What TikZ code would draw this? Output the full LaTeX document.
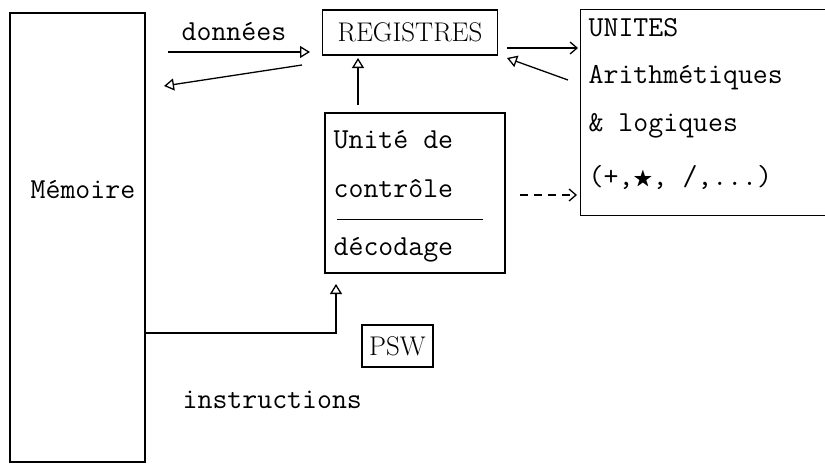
\documentclass[tikz,border=0pt]{standalone}
\usepackage{fontspec}
\usepackage{amssymb}
\usetikzlibrary{arrows.meta,calc}
\begin{document}
\begin{tikzpicture}[x=1pt,y=-1pt,line width=1.3pt,
  tt/.style={font=\fontsize{29}{34}\selectfont\ttfamily, inner sep=0pt, anchor=west},
  rmtxt/.style={font=\fontsize{27}{32}\selectfont\rmfamily, inner sep=0pt},
  boxn/.style={draw, inner sep=0pt, minimum width=#1},
  otip/.style={-{Triangle[open,length=10pt,width=12pt,line width=1.3pt]}},
  btip/.style={-{Straight Barb[length=7pt,width=12pt,line width=1.3pt]}}
]
\useasboundingbox (0,0) rectangle (825,466);
% boxes
\node[boxn=135, minimum height=449] (mem) at (77.5,237.5) {};
\node[boxn=175, minimum height=45, rmtxt] (reg) at (410,32.5) {REGISTRES};
\node[boxn=180, minimum height=160] (ctl) at (415,193) {};
\node[inner sep=0pt, minimum width=244, minimum height=205] (uni) at (703,112.5) {};
\draw (uni.north east) -- (uni.north west) -- (uni.south west) -- (uni.south east);
\node[boxn=71, minimum height=42, rmtxt] (psw) at (397.5,346) {PSW};
% texts
\node[tt] (memt) at (30,190) {Mémoire};
\node[tt] (don) at (181,32) {données};
\node[tt] (u1) at (588,28) {UNITES};
\node[tt] (u2) at (588,78) {Arithmétiques};
\node[tt] (u3) at (588,126) {\& logiques};
\node[tt] (u4) at (588,177) {(+,\raisebox{1pt}{\scalebox{0.7}{$\bigstar$}}, /,...)};
\node[tt] (c1) at (333,140) {Unité de};
\node[tt] (c2) at (333,189) {contrôle};
\node[tt] (c3) at (333,250) {décodage};
\node[tt] (ins) at (182,400) {instructions};
\draw[line width=1pt] (337,219) -- (483,219);
% connectors
\coordinate (dA) at (168,52);
\coordinate (dB) at (310,52);
\draw[otip] (dA) -- (dB);
\coordinate (rA) at (302,65);
\coordinate (rB) at (164,86);
\draw[otip] (rA) -- (rB);
\coordinate (ruA) at (507,48);
\coordinate (ruB) at (578,48);
\draw[btip] (ruA) -- (ruB);
\coordinate (urA) at (568,80);
\coordinate (urB) at (507,58);
\draw[otip] (urA) -- (urB);
\draw[otip] (358,105) -- (358,58);
\draw[btip, dash pattern=on 8pt off 6pt] (520,195) -- (577,195);
\draw[otip] (mem.east |- 0,333) -- (336,333) -- (336,284);
\end{tikzpicture}
\end{document}
